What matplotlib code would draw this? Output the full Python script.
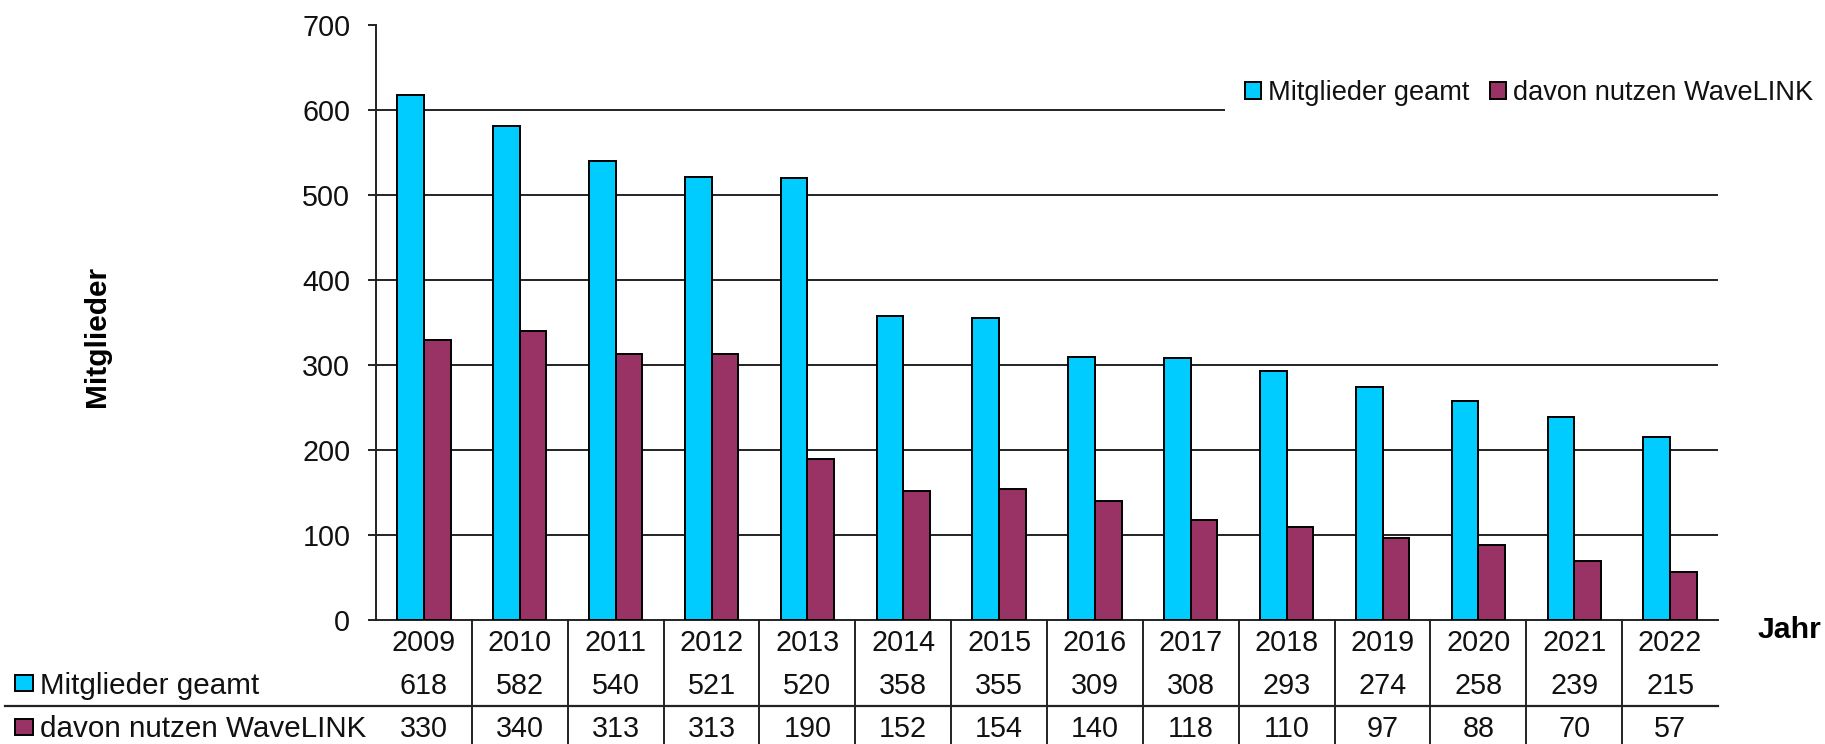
import numpy as np
import matplotlib
matplotlib.use("Agg")
import matplotlib.pyplot as plt
import matplotlib.transforms as mtransforms
from matplotlib.patches import Rectangle
from matplotlib.lines import Line2D

# ---------------- data ----------------
years = [2009, 2010, 2011, 2012, 2013, 2014, 2015, 2016, 2017, 2018, 2019, 2020, 2021, 2022]
members = [618, 582, 540, 521, 520, 358, 355, 309, 308, 293, 274, 258, 239, 215]
wavelink = [330, 340, 313, 313, 190, 152, 154, 140, 118, 110, 97, 88, 70, 57]
series_names = ["Mitglieder geamt", "davon nutzen WaveLINK"]
y_title = "Mitglieder"
x_title = "Jahr"
y_ticks = [0, 100, 200, 300, 400, 500, 600, 700]

# ---------------- style ----------------
plt.rcParams["font.family"] = ["Liberation Sans", "DejaVu Sans"]
W, H = 1825, 744
C_BLUE = "#00CCFF"
C_PURP = "#993366"
LINE_C = "#222222"
TXT_C = "#111111"


def fx(px):
    return px / W


def fy(py):
    return 1 - py / H


fig = plt.figure(figsize=(W / 100, H / 100), dpi=100)
ax = fig.add_axes([fx(376), fy(620), (1718 - 376) / W, (620 - 25.3) / H])

x = np.arange(len(years))
bw = 0.278
b1 = ax.bar(x - bw / 2, members, bw, color=C_BLUE, edgecolor="black",
            linewidth=1.4, zorder=3, label=series_names[0])
b2 = ax.bar(x + bw / 2, wavelink, bw, color=C_PURP, edgecolor="black",
            linewidth=1.4, zorder=3, label=series_names[1])

ax.set_xlim(-0.5, len(years) - 0.5)
ax.set_ylim(y_ticks[0], y_ticks[-1])
ax.set_yticks(y_ticks)
for v in y_ticks[1:-1]:
    ax.axhline(v, color=LINE_C, lw=1.4, zorder=1)

for s in ["top", "right"]:
    ax.spines[s].set_visible(False)
for s in ["left", "bottom"]:
    ax.spines[s].set_color(LINE_C)
    ax.spines[s].set_linewidth(1.4)

ax.tick_params(axis="y", direction="out", length=6, width=1.4, color=LINE_C,
               pad=12.5, labelsize=20.7, labelcolor=TXT_C)
ax.tick_params(axis="x", length=0, labelbottom=False)

# ---------------- data table ----------------
blend = mtransforms.blended_transform_factory(ax.transData, fig.transFigure)
fs_tab = 20.7
for i, yr in enumerate(years):
    ax.text(i, fy(650.7), str(yr), transform=blend, ha="center", va="baseline",
            fontsize=fs_tab, color=TXT_C, clip_on=False)
    ax.text(i, fy(693.5), str(members[i]), transform=blend, ha="center", va="baseline",
            fontsize=fs_tab, color=TXT_C, clip_on=False)
    ax.text(i, fy(736.7), str(wavelink[i]), transform=blend, ha="center", va="baseline",
            fontsize=fs_tab, color=TXT_C, clip_on=False)

for i in range(len(years) - 1):
    xi = i + 0.5
    ax.add_line(Line2D([xi, xi], [fy(620), 0], transform=blend, color=LINE_C,
                       lw=1.4, clip_on=False))

fig.add_artist(Line2D([fx(5), fx(1718)], [fy(705.7), fy(705.7)],
                      transform=fig.transFigure, color=LINE_C, lw=1.6))

# row labels with colour keys
for (ytop, ybase, col, name) in [(675, 693.5, C_BLUE, series_names[0]),
                                 (718.5, 736.7, C_PURP, series_names[1])]:
    fig.add_artist(Rectangle((fx(15), fy(ytop + 16)), 18 / W, 16 / H,
                             transform=fig.transFigure, facecolor=col,
                             edgecolor="black", lw=1.4))
    fig.text(fx(40), fy(ybase), name, ha="left", va="baseline",
             fontsize=21.3, color=TXT_C)

# axis titles
fig.text(fx(105), fy(336), y_title, rotation=90, rotation_mode="anchor",
         ha="center", va="baseline", fontsize=21.5, fontweight="bold", color="black")
fig.text(fx(1758), fy(638), x_title, ha="left", va="baseline",
         fontsize=21.8, fontweight="bold", color="black")

# ---------------- legend ----------------
leg = ax.legend(handles=[b1, b2], labels=series_names, loc="center left",
                bbox_to_anchor=(fx(1225), fy(93)), bbox_transform=fig.transFigure,
                ncol=2, frameon=True, facecolor="white", edgecolor="none",
                framealpha=1, fancybox=False, borderpad=0.74, borderaxespad=0,
                handlelength=0.59, handleheight=0.57, handletextpad=0.26,
                columnspacing=0.74, prop={"size": 19.6})
for t in leg.get_texts():
    t.set_color(TXT_C)
leg.set_zorder(10)

fig.savefig("out.png", dpi=100, facecolor="white")
